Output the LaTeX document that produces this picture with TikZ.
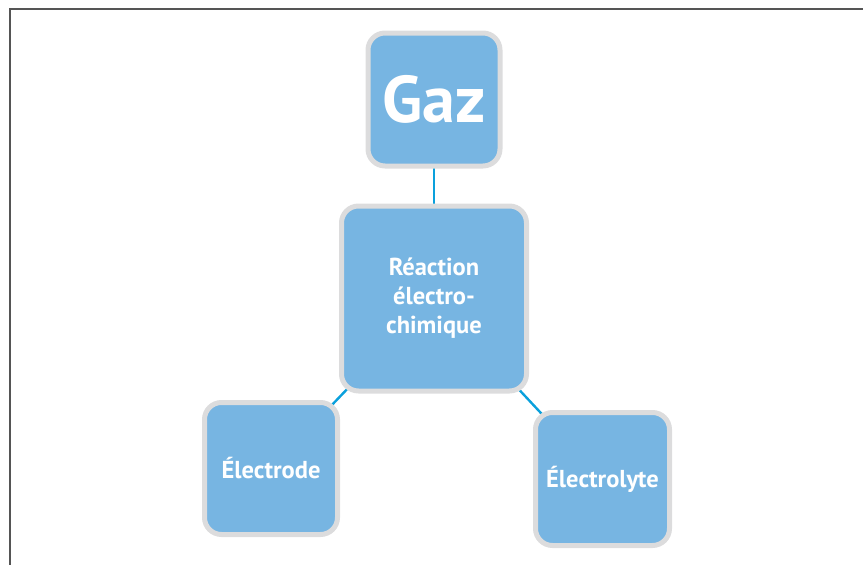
\documentclass[tikz,border=0pt]{standalone}
\usepackage{fontspec}
\setmainfont{PT Sans}
\usetikzlibrary{positioning,backgrounds}
\definecolor{boxblue}{HTML}{77B5E2}
\definecolor{rimgray}{HTML}{DCDCDD}
\definecolor{linkblue}{HTML}{0AA0DC}
\definecolor{framegray}{HTML}{555555}
\tikzstyle{card}=[rectangle,draw=rimgray,line width=5pt,fill=boxblue,rounded corners=17pt,align=center,text=white,font=\fontsize{24.5}{29}\selectfont\bfseries]
\tikzstyle{link}=[draw=linkblue,line width=2.4pt]

\begin{document}
\begin{tikzpicture}[x=1pt,y=-1pt]
\useasboundingbox (0,0) rectangle (863,565);
\draw[framegray,line width=2pt] (10,566) -- (10,9) -- (864,9);
\node[card, minimum width=185pt, minimum height=185pt] (react) at (434,298.5) {Réaction\\électro-\\chimique};
\node[card, minimum width=132pt, minimum height=133pt, above=35pt of react, font=\fontsize{66}{70}\selectfont\bfseries] (gaz) {Gaz};
\node[card, minimum width=133pt, minimum height=132pt, below left=6.5pt and -1pt of react] (elde) {Électrode};
\node[card, minimum width=134pt, minimum height=133pt, below right=16.5pt and 4pt of react] (elyt) {Électrolyte};
\begin{scope}[on background layer]
\draw[link] (gaz.center) -- (react.center);
\draw[link] (react.center) -- (elde.center);
\draw[link] (react.center) -- (elyt.center);
\end{scope}
\end{tikzpicture}
\end{document}
